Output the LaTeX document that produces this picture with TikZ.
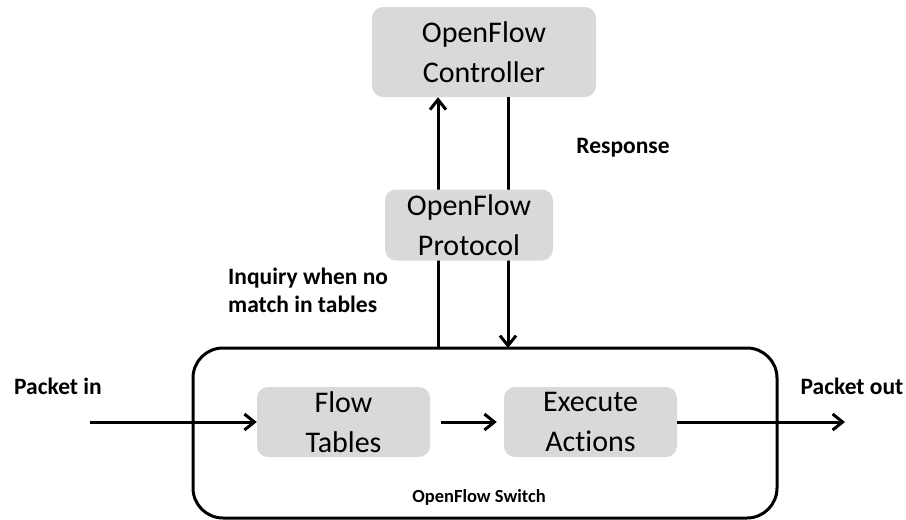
\documentclass[tikz,border=0pt]{standalone}
\usepackage{fontspec}
\setmainfont[Ligatures=NoCommon]{Carlito}
\usetikzlibrary{arrows.meta}
\begin{document}
\begin{tikzpicture}[x=1pt,y=-1pt,
  graybox/.style={draw=none,fill=black!15,rounded corners=11pt,align=center,
    inner sep=0pt,font=\fontsize{30}{40}\selectfont},
  conn/.style={line width=3pt,-{Straight Barb[length=10pt,width=16pt,line width=3pt]}},
  plain/.style={line width=3pt},
  lbl/.style={font=\bfseries\fontsize{23.5}{28}\selectfont,align=left,inner sep=0pt}]
\useasboundingbox (0,0) rectangle (906,520);
% switch frame
\draw[plain,rounded corners=30pt] (193,348) rectangle (777,518);
\coordinate (swtopL) at (438,348);
\coordinate (swtopR) at (508,348);
\coordinate (pin) at (90,422);
\coordinate (pout) at (845,422);
% boxes
\node[graybox,minimum width=224pt,minimum height=90pt] (ctrl) at (484,52) {OpenFlow\\Controller};
\node[graybox,minimum width=173pt,minimum height=70pt] (ft) at (343.5,422) {Flow\\Tables};
\node[graybox,minimum width=173pt,minimum height=70pt] (ea) at (590.5,422) {Execute\\Actions};
% vertical connectors
\draw[conn] (swtopL) -- (swtopL |- ctrl.south);
\draw[conn] (swtopR |- ctrl.south) -- (swtopR);
\node[graybox,minimum width=168pt,minimum height=71pt] (prot) at (469,225) {OpenFlow\\Protocol};
% horizontal connectors
\draw[conn] (pin) -- (ft.west);
\draw[conn,shorten <=11pt,shorten >=7pt] (ft.east) -- (ea.west);
\draw[conn] (ea.east) -- (pout);
% labels
\node[lbl] (resp) at (623,148) {Response};
\node[lbl,anchor=west] (inq) at (228,290) {Inquiry when no\\match in tables};
\node[lbl] (pinl) at (58,386) {Packet in};
\node[lbl] (poutl) at (852,386) {Packet out};
\node[font=\bfseries\fontsize{18.5}{22}\selectfont,inner sep=0pt] (swl) at (479,497) {OpenFlow Switch};
\end{tikzpicture}
\end{document}
